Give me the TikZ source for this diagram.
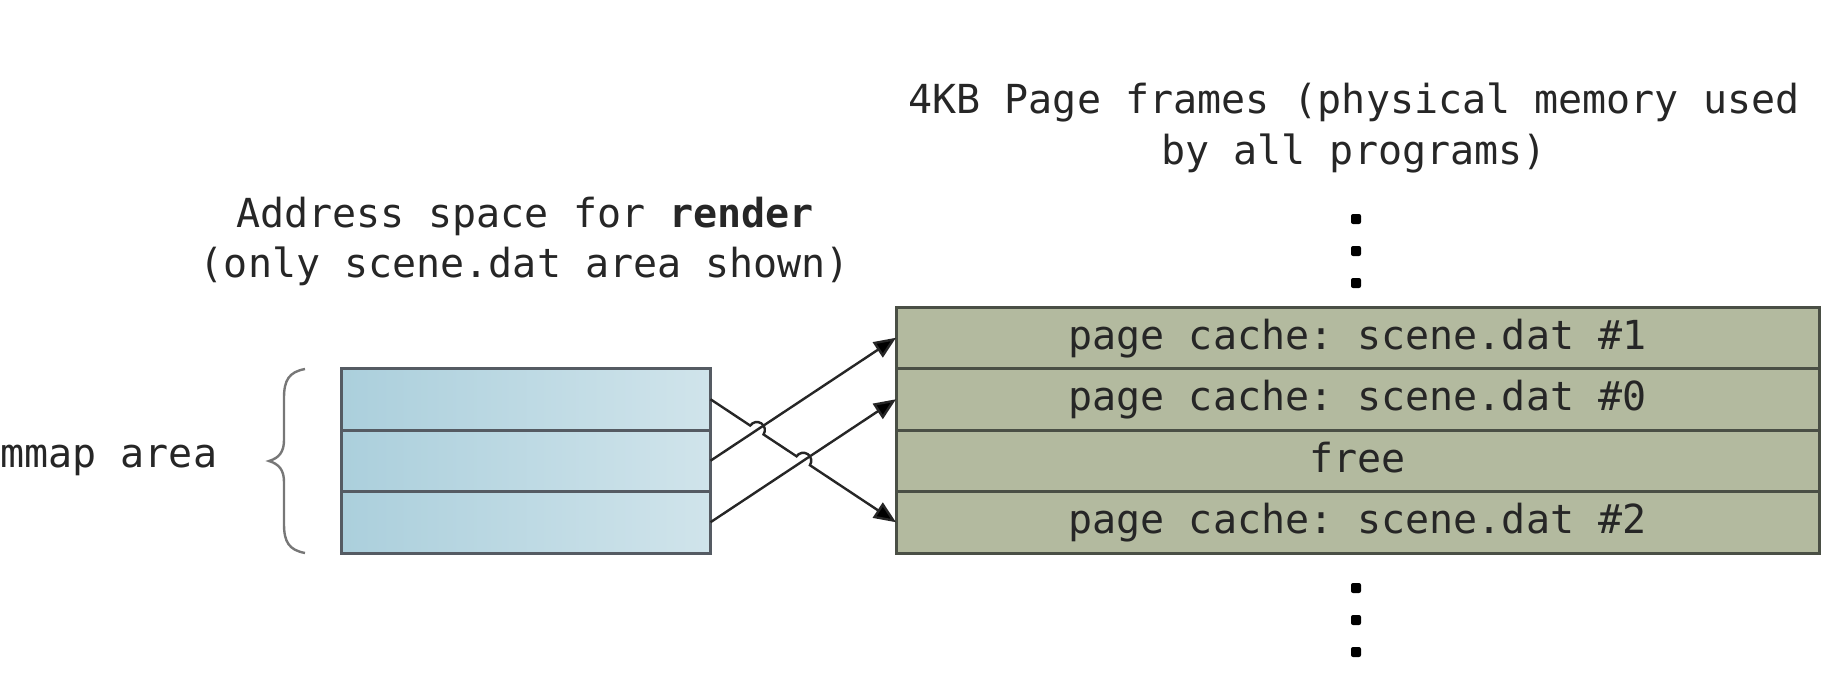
\documentclass[tikz,border=0pt]{standalone}
\usepackage{fontspec}
\setmonofont{DejaVu Sans Mono}
\usetikzlibrary{arrows.meta,calc,intersections}
\definecolor{blueL}{HTML}{ABCFDC}
\definecolor{blueR}{HTML}{D0E4EB}
\definecolor{greenF}{HTML}{B3BA9F}
\definecolor{edgeB}{HTML}{555B63}
\definecolor{edgeG}{HTML}{4A4F45}
\definecolor{txt}{HTML}{262626}
\definecolor{conncol}{HTML}{262626}
\definecolor{bracecol}{HTML}{777777}
\begin{document}
\begin{tikzpicture}[x=0.5pt,y=-0.5pt,
  font=\ttfamily\fontsize{20pt}{25pt}\selectfont,
  lrow/.style={draw=edgeB, line width=1.5pt, left color=blueL, right color=blueR,
    minimum width=184.5pt, minimum height=30.75pt, inner sep=0pt, outer sep=0pt,
    anchor=north west},
  rrow/.style={draw=edgeG, line width=1.5pt, fill=greenF, text=txt,
    minimum width=461.5pt, minimum height=30.75pt, inner sep=0pt, outer sep=0pt,
    text height=14.5pt, text depth=3pt, anchor=north west},
  lbl/.style={text=txt, inner sep=0pt, anchor=base},
  conn/.style={draw=conncol, line width=1.2pt},
  arr/.style={conn, -{Triangle[length=11pt,width=9pt,fill=black]}},
  dotm/.style={fill=black, draw=none, rounded corners=1pt}
]
\path[use as bounding box] (0,0) rectangle (1846,674);

% titles
\node[lbl] (ttl1) at (1354,113) {4KB Page frames (physical memory used};
\node[lbl] (ttl2) at (1354,164) {by all programs)};
\node[lbl] (lt1) at (525,227) {Address space for \textbf{render}};
\node[lbl] (lt2) at (525,277) {(only scene.dat area shown)};
\node[lbl, anchor=base west] (mm) at (0,467) {mmap area};

% left rows
\node[lrow] (l0) at (341.5,368.5) {};
\node[lrow] (l1) at (341.5,430) {};
\node[lrow] (l2) at (341.5,491.5) {};

% right rows
\node[rrow] (r0) at (896,307) {page cache: scene.dat \#1};
\node[rrow] (r1) at (896,368.5) {page cache: scene.dat \#0};
\node[rrow] (r2) at (896,430) {free};
\node[rrow] (r3) at (896,491.5) {page cache: scene.dat \#2};

% dots
\foreach \yy/\nm in {219/da,251/db,283/dc,588/dd,620/de,652/df}
  \path[dotm] (1351,\yy-5) rectangle (1361,\yy+5) coordinate (\nm);

% brace
\draw[bracecol, line width=1.2pt]
  (305,369) .. controls (289,372) and (284,380) .. (284,398) -- (284,440)
  .. controls (284,452) and (279,458) .. (269,461)
  .. controls (279,464) and (284,470) .. (284,482) -- (284,524)
  .. controls (284,542) and (289,550) .. (305,553);

% connectors
\path[name path=pA] (l0.east) -- (r3.west);
\path[name path=pB] (l1.east) -- (r0.west);
\path[name path=pC] (l2.east) -- (r1.west);
\path[name intersections={of=pA and pB, by=xa}];
\path[name intersections={of=pA and pC, by=xb}];
\draw[arr] (l1.east) -- (r0.west);
\draw[arr] (l2.east) -- (r1.west);
\draw[arr] (l0.east) -- ($(xa)!4pt!(l0.east)$)
  arc[start angle=146.35, end angle=-33.65, radius=4pt]
  -- ($(xb)!4pt!(l0.east)$)
  arc[start angle=146.35, end angle=-33.65, radius=4pt]
  -- (r3.west);
\end{tikzpicture}
\end{document}
